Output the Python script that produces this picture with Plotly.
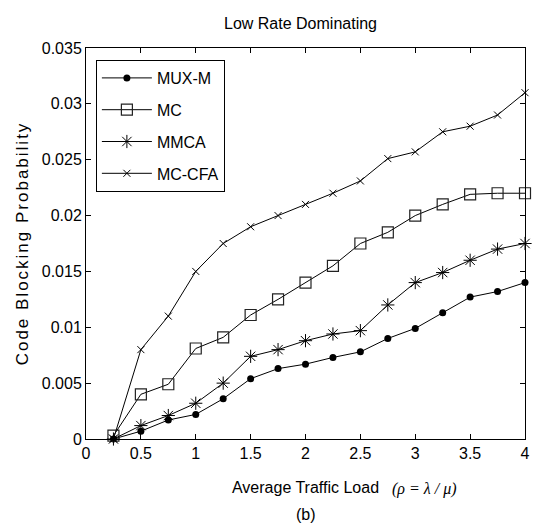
import plotly.graph_objects as go

load = [0.25, 0.5, 0.75, 1.0, 1.25, 1.5, 1.75, 2.0, 2.25, 2.5, 2.75, 3.0, 3.25, 3.5, 3.75, 4.0]

mux_m = [0.0000, 0.0007, 0.0017, 0.0022, 0.0036, 0.0054, 0.0063, 0.0067, 0.0073, 0.0078,
         0.0090, 0.0099, 0.0113, 0.0127, 0.0132, 0.0140]
mc = [0.0003, 0.0040, 0.0049, 0.0081, 0.0091, 0.0111, 0.0125, 0.0140, 0.0155, 0.0175,
      0.0185, 0.0200, 0.0210, 0.0219, 0.0220, 0.0220]
mmca = [0.0000, 0.0012, 0.0021, 0.0032, 0.0050, 0.0074, 0.0080, 0.0088, 0.0094, 0.0097,
        0.0120, 0.0140, 0.0149, 0.0160, 0.0170, 0.0175]
mc_cfa = [0.0000, 0.0080, 0.0110, 0.0150, 0.0175, 0.0190, 0.0200, 0.0210, 0.0220, 0.0231,
          0.0251, 0.0257, 0.0275, 0.0280, 0.0290, 0.0310]

x_ticks = [0, 0.5, 1, 1.5, 2, 2.5, 3, 3.5, 4]
x_tick_labels = ["0", "0.5", "1", "1.5", "2", "2.5", "3", "3.5", "4"]
y_ticks = [0, 0.005, 0.01, 0.015, 0.02, 0.025, 0.03, 0.035]
y_tick_labels = ["0", "0.005", "0.01", "0.015", "0.02", "0.025", "0.03", "0.035"]

SANS = "Liberation Sans, Arial, sans-serif"

series = [
    ("MUX-M", mux_m, dict(symbol="circle", size=7, color="black")),
    ("MC", mc, dict(symbol="square-open", size=11, color="#222", line=dict(width=1.2))),
    ("MMCA", mmca, dict(symbol="asterisk-open", size=11, color="black", line=dict(width=1, color="black"))),
    ("MC-CFA", mc_cfa, dict(symbol="x-thin-open", size=7, color="black", line=dict(width=1, color="black"))),
]

fig = go.Figure()
for name, vals, mk in series:
    fig.add_trace(go.Scatter(
        x=load, y=vals, name=name, mode="lines+markers",
        line=dict(color="black", width=1),
        marker=mk, cliponaxis=False, legendgroup=name,
    ))

axis_common = dict(
    showline=True, linecolor="black", linewidth=1, mirror="ticks",
    ticks="inside", ticklen=5, tickcolor="black", showgrid=False, zeroline=False,
    tickfont=dict(family=SANS, size=16, color="black"),
    ticklabeloverflow="allow",
)

fig.update_layout(
    width=533, height=524,
    margin=dict(l=86, r=3, t=48, b=85),
    paper_bgcolor="white", plot_bgcolor="white",
    title=dict(text="Low Rate Dominating", x=300.5 / 533, xanchor="center",
               y=1 - 23 / 524, yanchor="middle",
               font=dict(family=SANS, size=16, color="black")),
    xaxis=dict(range=[0, 4], tickvals=x_ticks, ticktext=x_tick_labels,
               title=dict(text="Average Traffic Load", standoff=20,
                          font=dict(family=SANS, size=16, color="black")),
               **axis_common),
    yaxis=dict(range=[0, 0.035], tickvals=y_ticks, ticktext=y_tick_labels,
               title=dict(text='<span style="letter-spacing:2px">Code Blocking Probability</span>',
                          standoff=8,
                          font=dict(family=SANS, size=17, color="black")),
               **axis_common),
    legend=dict(x=(96 - 86) / 444, y=(439 - 60) / 391, xanchor="left", yanchor="top",
                bgcolor="white", bordercolor="black", borderwidth=1,
                font=dict(family=SANS, size=16, color="black"),
                traceorder="grouped", tracegroupgap=8, itemwidth=50),
    showlegend=True,
    annotations=[
        dict(text="<i>(ρ = λ / μ)</i>", xref="paper", yref="paper",
             x=(428 - 86) / 444, y=-(489 - 439) / 391, xanchor="center", yanchor="middle",
             showarrow=False, font=dict(family="Liberation Serif, Times New Roman, serif", size=16, color="black")),
        dict(text="(b)", xref="paper", yref="paper",
             x=(308 - 86) / 444, y=-(514 - 439) / 391, xanchor="center", yanchor="middle",
             showarrow=False, font=dict(family=SANS, size=16, color="black")),
    ],
)

fig.write_html("out.html")
